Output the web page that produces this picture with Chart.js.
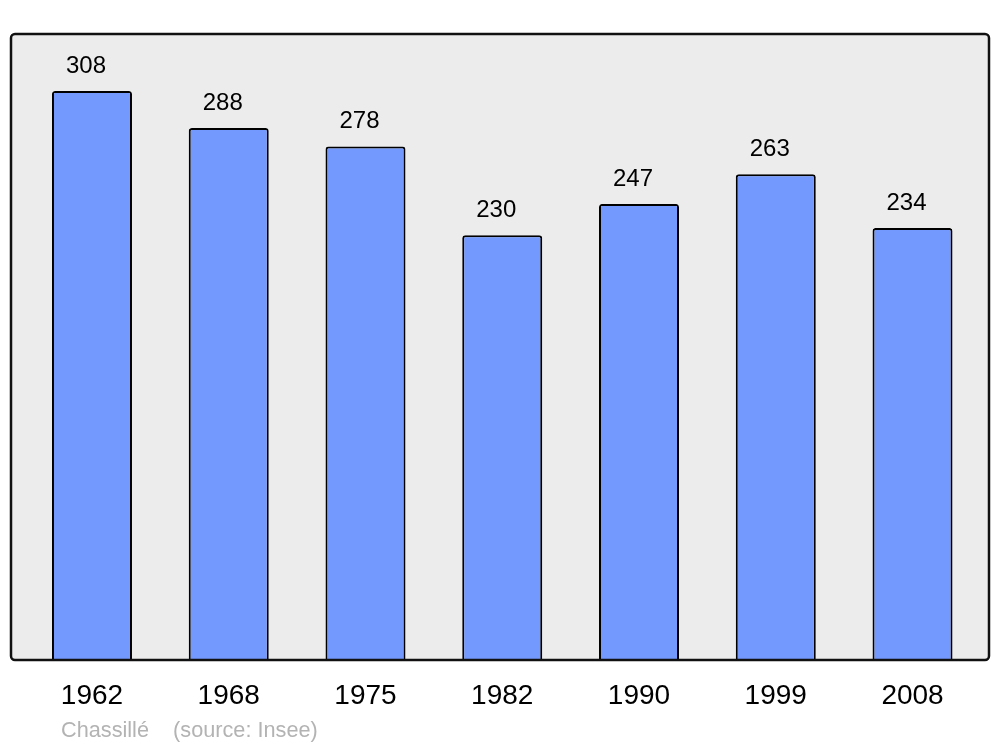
<!DOCTYPE html>
<html>
<head>
<meta charset="utf-8">
<script src="https://cdn.jsdelivr.net/npm/chart.js@4/dist/chart.umd.min.js"></script>
<style>
  body { margin: 0; background: #fff; }
  #wrap { position: relative; width: 1000px; height: 747px; }
  #source {
    position: absolute; left: 61px; top: 717px;
    font: 21.7px "Liberation Sans", Arial, sans-serif; color: #b3b3b3;
    white-space: pre;
  }
</style>
</head>
<body>
<div id="wrap">
  <canvas id="popChart" width="1000" height="747"></canvas>
  <div id="source">Chassillé    (source: Insee)</div>
</div>
<script>
const years = ['1962', '1968', '1975', '1982', '1990', '1999', '2008'];
const population = [308, 288, 278, 230, 247, 263, 234];

const FONT = '"Liberation Sans", Arial, sans-serif';

// grey framed box behind the bars
const frameBox = {
  id: 'frameBox',
  beforeDraw(chart) {
    const c = chart.ctx;
    c.save();
    c.beginPath();
    c.roundRect(11, 34, 978, 626, 4);
    c.fillStyle = '#ececec';
    c.fill();
    c.restore();
  },
  afterDatasetsDraw(chart) {
    const c = chart.ctx;
    c.save();
    c.beginPath();
    c.roundRect(11, 34, 978, 626, 4);
    c.lineWidth = 2.5;
    c.strokeStyle = '#111';
    c.stroke();
    // value labels above bars
    const meta = chart.getDatasetMeta(0);
    c.font = '24px ' + FONT;
    c.fillStyle = '#000';
    c.textAlign = 'center';
    c.textBaseline = 'middle';
    meta.data.forEach((bar, i) => {
      c.fillText(population[i], bar.x - 6, bar.y - 25);
    });
    c.restore();
  }
};

new Chart(document.getElementById('popChart'), {
  type: 'bar',
  data: {
    labels: years,
    datasets: [{
      data: population,
      backgroundColor: '#7399ff',
      borderColor: '#000',
      borderWidth: 2,
      borderRadius: { topLeft: 3, topRight: 3, bottomLeft: 0, bottomRight: 0 },
      borderSkipped: 'bottom',
      categoryPercentage: 1,
      barPercentage: 0.585
    }]
  },
  options: {
    responsive: false,
    animation: false,
    layout: { padding: { left: 23.6, right: 19.1, top: 34, bottom: 16.4 } },
    plugins: { legend: { display: false }, tooltip: { enabled: false } },
    scales: {
      x: {
        grid: { display: false, drawTicks: false },
        border: { display: false },
        ticks: { color: '#000', padding: 18, font: { family: FONT, size: 28, lineHeight: 1.2 } }
      },
      y: { display: false, min: 0, max: 338.8 }
    }
  },
  plugins: [frameBox]
});
</script>
</body>
</html>
